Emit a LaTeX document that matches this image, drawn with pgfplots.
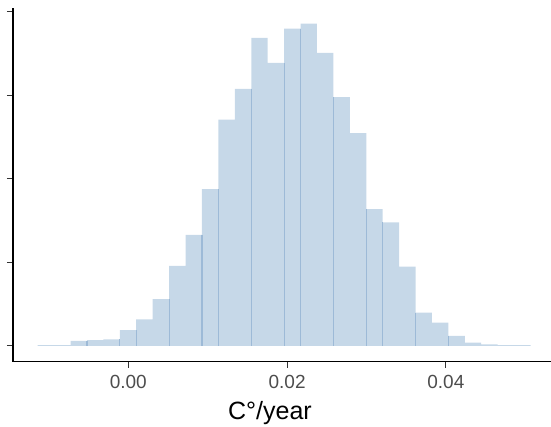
\documentclass[border=0pt]{standalone}
\usepackage{fontspec}
\setmainfont{Liberation Sans}
\usepackage{pgfplots}
\pgfplotsset{compat=1.18}
\definecolor{barfill}{HTML}{C6D8E8}
\definecolor{baredge}{HTML}{9DBAD7}
\definecolor{tickgray}{HTML}{4D4D4D}
\definecolor{tickline}{HTML}{333333}

\begin{document}
\begin{tikzpicture}
\useasboundingbox (-13pt,-65.3pt) rectangle (538pt,361.7pt);
\begin{axis}[
    scale only axis,
    width=538pt, height=353.4pt,
    xmin=-0.01452, xmax=0.05324,
    ymin=-18.8, ymax=404.4,
    axis x line*=bottom, axis y line*=left,
    axis line style={-, black, line width=1.1pt},
    tick align=outside,
    major tick length=6pt,
    every tick/.style={tickline, line width=1pt},
    xtick={0,0.02,0.04},
    ytick={0,100,200,300,400},
    yticklabels={},
    xticklabel style={font=\fontsize{19}{19}\selectfont, text=tickgray, yshift=-4.5pt},
    /pgf/number format/.cd, fixed, fixed zerofill, precision=2, assume math mode=true,
    /pgfplots/.cd,
    scaled x ticks=false,
    xlabel={C°/year},
    xlabel style={font=\fontsize{25}{25}\selectfont, text=black, yshift=-5.5pt, xshift=-12pt},
]
% histogram counts, bin edges
\addplot[ybar interval, fill=barfill, draw=none] coordinates {
(-0.01141,1) (-0.00934,1) (-0.00727,6) (-0.00520,7) (-0.00313,8)
(-0.00107,19) (0.00100,32) (0.00307,56) (0.00514,96) (0.00721,133)
(0.00928,188) (0.01135,271) (0.01342,308) (0.01549,369) (0.01756,339)
(0.01963,380) (0.02169,386) (0.02376,351) (0.02583,298) (0.02790,255)
(0.02997,164) (0.03204,148) (0.03411,95) (0.03618,40) (0.03825,28)
(0.04032,12) (0.04239,4) (0.04445,2) (0.04652,1) (0.04859,1)
(0.05066,1)
};
% darker seams where neighbouring bars overlap
\addplot[ycomb, no marks, color=baredge, line width=1.2pt] coordinates {
(-0.00520,6) (-0.00107,8) (0.00100,19) (0.00514,56) (0.00928,133)
(0.01135,188) (0.01549,308) (0.01963,339) (0.02169,380) (0.02583,298)
(0.02997,164) (0.03204,148) (0.03618,40) (0.04032,12)
};
\end{axis}
\end{tikzpicture}
\end{document}
